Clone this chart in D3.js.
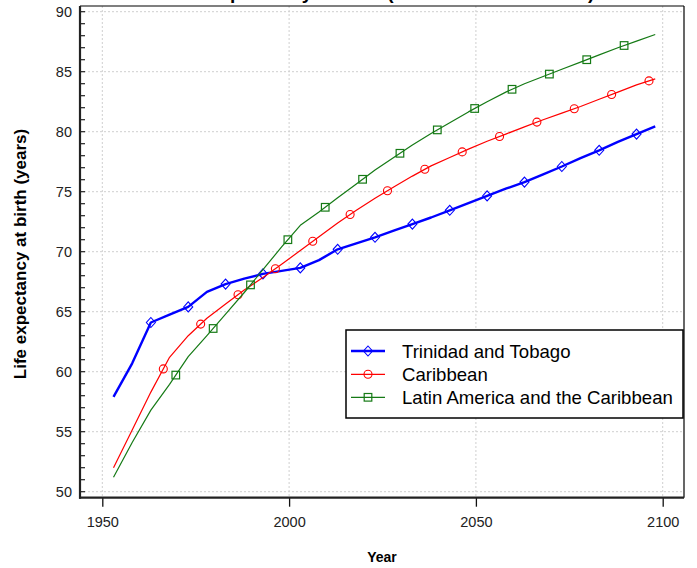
<!DOCTYPE html>
<html><head><meta charset="utf-8">
<script src="https://cdn.jsdelivr.net/npm/d3@7"></script>
<style>body{margin:0;background:#fff;} svg{display:block;font-family:Arial,"Liberation Sans",sans-serif;}</style>
</head><body>
<svg id="c" width="697" height="568"></svg>
<script>
const years = d3.range(1953, 2099, 5);
const trinidad = [57.9,60.7,64.1,64.75,65.4,66.65,67.3,67.75,68.15,68.4,68.65,69.3,70.2,70.7,71.2,71.75,72.3,72.85,73.45,74.05,74.65,75.25,75.8,76.45,77.1,77.8,78.45,79.15,79.8,80.45];
const caribbean = [52.0,55.15,58.3,61.2,63.0,64.45,65.65,66.8,67.85,68.95,70.1,71.25,72.4,73.45,74.45,75.4,76.3,77.15,77.85,78.55,79.2,79.8,80.4,81.0,81.55,82.1,82.7,83.3,83.9,84.4];
const latam = [51.2,54.1,56.8,58.95,61.25,63.0,64.8,66.6,68.5,70.4,72.2,73.3,74.5,75.65,76.8,77.85,78.9,79.85,80.75,81.65,82.5,83.3,84.0,84.6,85.2,85.8,86.4,87.0,87.55,88.1];
const seriesNames = ["Trinidad and Tobago","Caribbean","Latin America and the Caribbean"];
const markerStarts = [1963, 1966.33, 1969.67];
const xTicks = [1950, 2000, 2050, 2100];
const yTicks = [50,55,60,65,70,75,80,85,90];
const titleText = "Life expectancy at birth (both sexes combined)";

const svg = d3.select("#c");
const L=80, R=684, T=6, B=497.7;
const x = d3.scaleLinear().domain([1950,2100]).range([102.3,662.7]);
const y = d3.scaleLinear().domain([50,90]).range([491.7,11.7]);

// title (clipped at top, as in the reference)
svg.append("text").attr("x",382).attr("y",-1).attr("text-anchor","middle")
  .attr("font-weight","bold").attr("font-size",19).text(titleText);

// grid
const g = svg.append("g");
g.selectAll(".gx").data(xTicks).join("line")
  .attr("x1",d=>x(d)).attr("x2",d=>x(d)).attr("y1",T).attr("y2",B)
  .attr("stroke","#cfcfcf").attr("stroke-dasharray","2,2").attr("stroke-width",1);
g.selectAll(".gy").data(yTicks).join("line")
  .attr("y1",d=>y(d)).attr("y2",d=>y(d)).attr("x1",L).attr("x2",R)
  .attr("stroke","#cfcfcf").attr("stroke-dasharray","2,2").attr("stroke-width",1);

// box
svg.append("line").attr("x1",L).attr("x2",R).attr("y1",T).attr("y2",T).attr("stroke","#000").attr("stroke-width",1.2);
svg.append("line").attr("x1",R).attr("x2",R).attr("y1",T).attr("y2",B).attr("stroke","#000").attr("stroke-width",1.2);

// axes
const yAxis = d3.axisLeft(y).tickValues(yTicks).tickSize(0).tickPadding(8).tickFormat(d3.format("d"));
const yAx = svg.append("g").attr("transform",`translate(${L},0)`).call(yAxis);
yAx.select(".domain").remove();
yAx.selectAll("text").attr("font-size",14.5).attr("fill","#222").attr("font-family","Arial,'Liberation Sans',sans-serif");
svg.append("g").selectAll("line").data(d3.range(50,91,1)).join("line")
  .attr("x1",L).attr("x2",L+5).attr("y1",d=>y(d)).attr("y2",d=>y(d)).attr("stroke","#222").attr("stroke-width",1.2);

const xAxis = d3.axisBottom(x).tickValues(xTicks).tickSize(9).tickPadding(10).tickFormat(d3.format("d"));
const xAx = svg.append("g").attr("transform",`translate(0,${B})`).call(xAxis);
xAx.select(".domain").remove();
xAx.selectAll("line").attr("stroke","#111").attr("stroke-width",1.3);
xAx.selectAll("text").attr("font-size",14.5).attr("fill","#222").attr("font-family","Arial,'Liberation Sans',sans-serif");

svg.append("line").attr("x1",L).attr("x2",L).attr("y1",T).attr("y2",B+1).attr("stroke","#222").attr("stroke-width",2.2);
svg.append("line").attr("x1",L-1).attr("x2",R).attr("y1",B).attr("y2",B).attr("stroke","#222").attr("stroke-width",2.2);

// labels
svg.append("text").attr("x",382).attr("y",562).attr("text-anchor","middle").attr("font-weight","bold").attr("font-size",14).text("Year");
svg.append("text").attr("transform","translate(26,254) rotate(-90)").attr("text-anchor","middle").attr("font-weight","bold").attr("font-size",17).text("Life expectancy at birth (years)");

// series
const series = [
  {name:seriesNames[0], vals:trinidad, color:"#0000ff", w:2.4, shape:"diamond", start:markerStarts[0]},
  {name:seriesNames[1], vals:caribbean, color:"#ff0000", w:1.2, shape:"circle", start:markerStarts[1]},
  {name:seriesNames[2], vals:latam, color:"#157a15", w:1.2, shape:"square", start:markerStarts[2]}
];
const line = d3.line().x(d=>x(d[0])).y(d=>y(d[1]));
function marker(sel, shape, color, cx, cy){
  if(shape==="diamond"){
    sel.append("path").attr("d",`M${cx},${cy-5}L${cx+4.5},${cy}L${cx},${cy+5}L${cx-4.5},${cy}Z`)
      .attr("fill","none").attr("stroke",color).attr("stroke-width",1.1);
  } else if(shape==="circle"){
    sel.append("circle").attr("cx",cx).attr("cy",cy).attr("r",4).attr("fill","none").attr("stroke",color).attr("stroke-width",1.1);
  } else {
    sel.append("rect").attr("x",cx-3.8).attr("y",cy-3.8).attr("width",7.6).attr("height",7.6).attr("fill","none").attr("stroke",color).attr("stroke-width",1.2);
  }
}
const pg = svg.append("g");
series.forEach(s=>{
  const pts = years.map((yr,i)=>[yr,s.vals[i]]);
  pg.append("path").datum(pts).attr("d",line).attr("fill","none").attr("stroke",s.color).attr("stroke-width",s.w).attr("stroke-linejoin","round");
  const interp = d3.scaleLinear().domain(years).range(s.vals);
  for(let yr=s.start; yr<=years[years.length-1]; yr+=10){
    marker(pg, s.shape, s.color, x(yr), y(interp(yr)));
  }
});

// legend
const lg = svg.append("g");
lg.append("rect").attr("x",346).attr("y",330).attr("width",337).attr("height",88).attr("fill","#fff").attr("stroke","#000").attr("stroke-width",1.5);
const rowY = [351,374.3,397.3];
series.forEach((s,i)=>{
  lg.append("line").attr("x1",351).attr("x2",385).attr("y1",rowY[i]).attr("y2",rowY[i]).attr("stroke",s.color).attr("stroke-width",s.w);
  marker(lg, s.shape, s.color, 368, rowY[i]);
  lg.append("text").attr("x",402).attr("y",rowY[i]+6.5).attr("font-size",18.6).attr("fill","#000").text(s.name);
});
</script>
</body></html>
